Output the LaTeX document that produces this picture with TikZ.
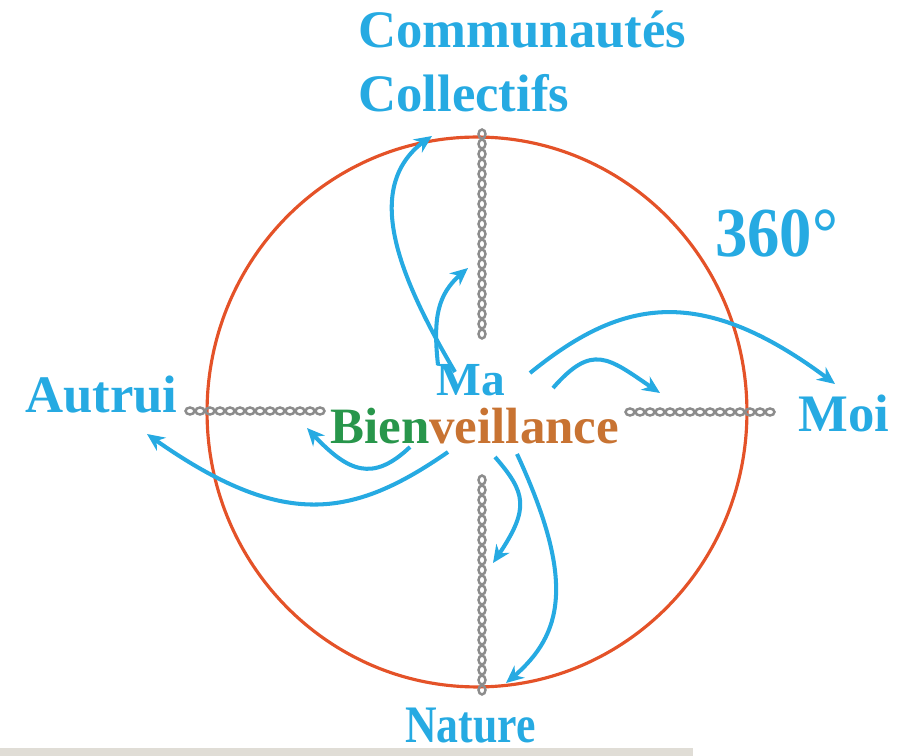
\documentclass[tikz,border=0pt]{standalone}
\usepackage{fontspec}
\setmainfont{Liberation Serif}
\usepackage{tikz}
\usetikzlibrary{calc,bending,arrows.meta}
\definecolor{bleu}{RGB}{38,170,226}
\definecolor{rouge}{RGB}{228,82,40}
\definecolor{vert}{RGB}{40,150,75}
\definecolor{orange}{RGB}{200,115,50}
\definecolor{chaine}{RGB}{140,140,140}
\definecolor{barre}{RGB}{224,221,214}
\tikzset{>={Stealth[length=10pt,width=9pt]}}
\tikzset{mot/.style={anchor=base west, inner sep=0pt, text=bleu, font=\fontsize{30}{36}\selectfont\bfseries},
  fleche/.style={->, line width=2.3pt, bleu},
  maillon/.style={line width=1.4pt, chaine}}

\begin{document}
\begin{tikzpicture}[x=0.02cm, y=-0.02cm]
    \useasboundingbox (0,0) rectangle (903,756);
    \fill[barre](0,748) rectangle (693,756);

    \draw[line width=1.8pt, rouge](477,412) ellipse [x radius=5.4cm, y radius=5.5cm];

     \foreach \y in {134,144,...,334} \draw[maillon](482,\y) ellipse [x radius=0.07cm, y radius=0.09cm];
     \foreach \y in {480,490,...,690} \draw[maillon](482,\y) ellipse [x radius=0.07cm, y radius=0.09cm];
     \foreach \x in {190,200,...,320} \draw[maillon](\x,411) ellipse [x radius=0.09cm, y radius=0.07cm];
     \foreach \x in {630,640,...,770} \draw[maillon](\x,412) ellipse [x radius=0.09cm, y radius=0.07cm];

    \node[mot] at (358,48)   (comm) {Communautés};
    \node[mot] at (358,112)  (coll) {Collectifs};
    \node[mot] at (25,413)   (autrui) {Autrui};
    \node[mot] at (798,432)  (moi) {Moi};
    \node[mot, xscale=0.83] at (405,743)  (nature) {Nature};
    \node[mot, font=\fontsize{40}{48}\selectfont\bfseries, xscale=0.92] at (715,257) (deg) {360°};
    \node[mot, font=\fontsize{27}{32}\selectfont\bfseries] at (436,396) (ma) {Ma};
    \node[mot, font=\fontsize{29}{34}\selectfont\bfseries] at (330,444) (bien) {\textcolor{vert}{Bien}\textcolor{orange}{veillance}};

     \coordinate (haut1) at (432,136);
     \coordinate (haut2) at (468,268);
     \coordinate (droite1) at (835,384);
     \coordinate (droite2) at (660,393);
     \coordinate (gauche1) at (147,434);
     \coordinate (gauche2) at (307,428);
     \coordinate (bas1) at (493,563);
     \coordinate (bas2) at (506,683);

      \draw[fleche](455,372) .. controls (395,270) and (360,180) .. (haut1);
      \draw[fleche](438,365) .. controls (432,310) and (440,290) .. (haut2);
      \draw[fleche](530,373) .. controls (620,300) and (700,280) .. (droite1);
      \draw[fleche](553,388) .. controls (595,340) and (610,360) .. (droite2);
      \draw[fleche](448,452) .. controls (350,520) and (280,530) .. (gauche1);
      \draw[fleche](410,447) .. controls (370,485) and (345,470) .. (gauche2);
      \draw[fleche](495,457) .. controls (528,495) and (530,510) .. (bas1);
      \draw[fleche](517,454) .. controls (580,590) and (560,640) .. (bas2);
    \end{tikzpicture}
\end{document}
